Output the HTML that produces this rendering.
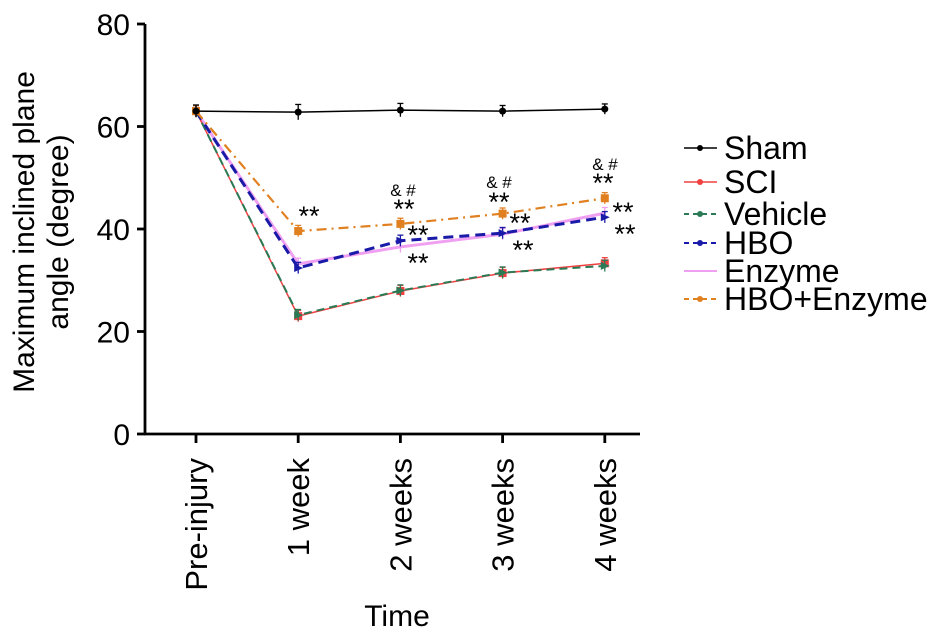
<!DOCTYPE html>
<html><head><meta charset="utf-8"><style>
body{margin:0;background:#fff;}
svg text{font-family:"Liberation Sans",Arial,sans-serif;}
</style></head><body>
<svg width="945" height="639" xmlns="http://www.w3.org/2000/svg">
<g id="axes"></g><g id="series"></g><g id="annots"></g><g id="legend"></g>
</svg>
<script>
const categories=["Pre-injury","1 week","2 weeks","3 weeks","4 weeks"];
const yTicks=[0,20,40,60,80];
const sham=[63,62.8,63.2,63,63.4];
const sci=[63,23,27.9,31.4,33.3];
const vehicle=[63,23.2,28,31.5,32.8];
const hbo=[63,32.4,37.7,39.2,42.3];
const enzyme=[63,33.2,36.5,39,43.1];
const hboEnzyme=[63,39.6,41,43,46];
const shamErr=[1.2,1.5,1.3,1.1,1];
const seriesNames=["Sham","SCI","Vehicle","HBO","Enzyme","HBO+Enzyme"];
const NS="http://www.w3.org/2000/svg";
const x=i=>196+i*102.2;
const y=v=>434-v*5.125;
function mk(tag,attrs,parent,txt){const e=document.createElementNS(NS,tag);for(const k in attrs)e.setAttribute(k,attrs[k]);if(txt!==undefined)e.textContent=txt;parent.appendChild(e);return e;}
const axes=document.getElementById('axes');
let e=mk('line',{x1:145,y1:y(80),x2:145,y2:435,stroke:'#000','stroke-width':2.8},axes);

e=mk('line',{x1:144,y1:434,x2:640,y2:434,stroke:'#000','stroke-width':2.8},axes);

yTicks.forEach(t=>{
 mk('line',{x1:137,y1:y(t),x2:145,y2:y(t),stroke:'#000','stroke-width':2.8},axes);
 e=mk('text',{x:130,y:y(t)+11,'text-anchor':'end','font-size':30},axes,String(t));
 
});
categories.forEach((c,i)=>{
 mk('line',{x1:x(i),y1:434,x2:x(i),y2:443,stroke:'#000','stroke-width':2.8},axes);
 e=mk('text',{x:0,y:0,'text-anchor':'end','font-size':31,transform:`translate(${x(i)+11},458) rotate(-90)`},axes,c);
 
});
e=mk('text',{x:397,y:626,'text-anchor':'middle','font-size':30},axes,'Time');

e=mk('text',{x:0,y:0,'text-anchor':'middle','font-size':30,transform:'translate(34,232) rotate(-90)'},axes,'Maximum inclined plane');

e=mk('text',{x:0,y:0,'text-anchor':'middle','font-size':30,transform:'translate(68,232) rotate(-90)'},axes,'angle  (degree)');


const styles=[
 {d:sham,c:'#000',w:1.5,dash:'',m:'circle'},
 {d:sci,c:'#f04040',w:1.5,dash:'',m:'rect'},
 {d:vehicle,c:'#2a7a55',w:2,dash:'8,5',m:'tri'},
 {d:hbo,c:'#1a1aa8',w:3,dash:'10,6',m:'tri'},
 {d:enzyme,c:'#f0a0f0',w:3,dash:'',m:'none'},
 {d:hboEnzyme,c:'#e08020',w:2.2,dash:'10,5,2,5',m:'rect'}
];
const sg=document.getElementById('series');
const order=[4,1,2,3,5,0];
order.forEach(si=>{
 const s=styles[si];
 const g=mk('g',{},sg);
 
 
 const pts=s.d.map((v,i)=>x(i)+','+y(v)).join(' ');
 mk('polyline',{points:pts,fill:'none',stroke:s.c,'stroke-width':s.w,'stroke-dasharray':s.dash},g);
 s.d.forEach((v,i)=>{
  const err=si===0?shamErr[i]:1.1;
  mk('line',{x1:x(i),y1:y(v+err),x2:x(i),y2:y(v-err),stroke:s.c,'stroke-width':1.3},g);
  mk('line',{x1:x(i)-3,y1:y(v+err),x2:x(i)+3,y2:y(v+err),stroke:s.c,'stroke-width':1.3},g);
  if(s.m==='circle')mk('circle',{cx:x(i),cy:y(v),r:3.5,fill:s.c},g);
  else if(s.m==='rect')mk('rect',{x:x(i)-4,y:y(v)-4,width:8,height:8,fill:s.c},g);
  else if(s.m==='tri')mk('path',{d:`M${x(i)-4},${y(v)-4}L${x(i)+5},${y(v)}L${x(i)-4},${y(v)+4}Z`,fill:s.c},g);
 });
});
const an=document.getElementById('annots');
const annots=[[309,210,'**'],[404,203,'**'],[418,229,'**'],[418,257,'**'],[499,196,'**'],[520,217,'**'],[523,244,'**'],[603,177,'**'],[623,206,'**'],[625,228,'**']];
annots.forEach(a=>{e=mk('text',{x:a[0],y:a[1]+15,'text-anchor':'middle','font-size':27},an,a[2]);
 });
[[403,196],[499,188],[605,170]].forEach(a=>{e=mk('text',{x:a[0],y:a[1],'text-anchor':'middle','font-size':17},an,'& #');
 });

const lg=document.getElementById('legend');
const ly=[148,182,214,243,271,299];
seriesNames.forEach((n,i)=>{
 const s=styles[i];
 const g=mk('g',{},lg);
 
 
 mk('line',{x1:684,y1:ly[i],x2:717,y2:ly[i],stroke:s.c,'stroke-width':Math.min(s.w,2),'stroke-dasharray':s.dash?'5,4':''},g);
 if(s.m!=='none')mk('circle',{cx:700,cy:ly[i],r:3,fill:s.c},g);
 mk('text',{x:724,y:ly[i]+11,'font-size':32},g,n);
});
</script>
</body></html>
